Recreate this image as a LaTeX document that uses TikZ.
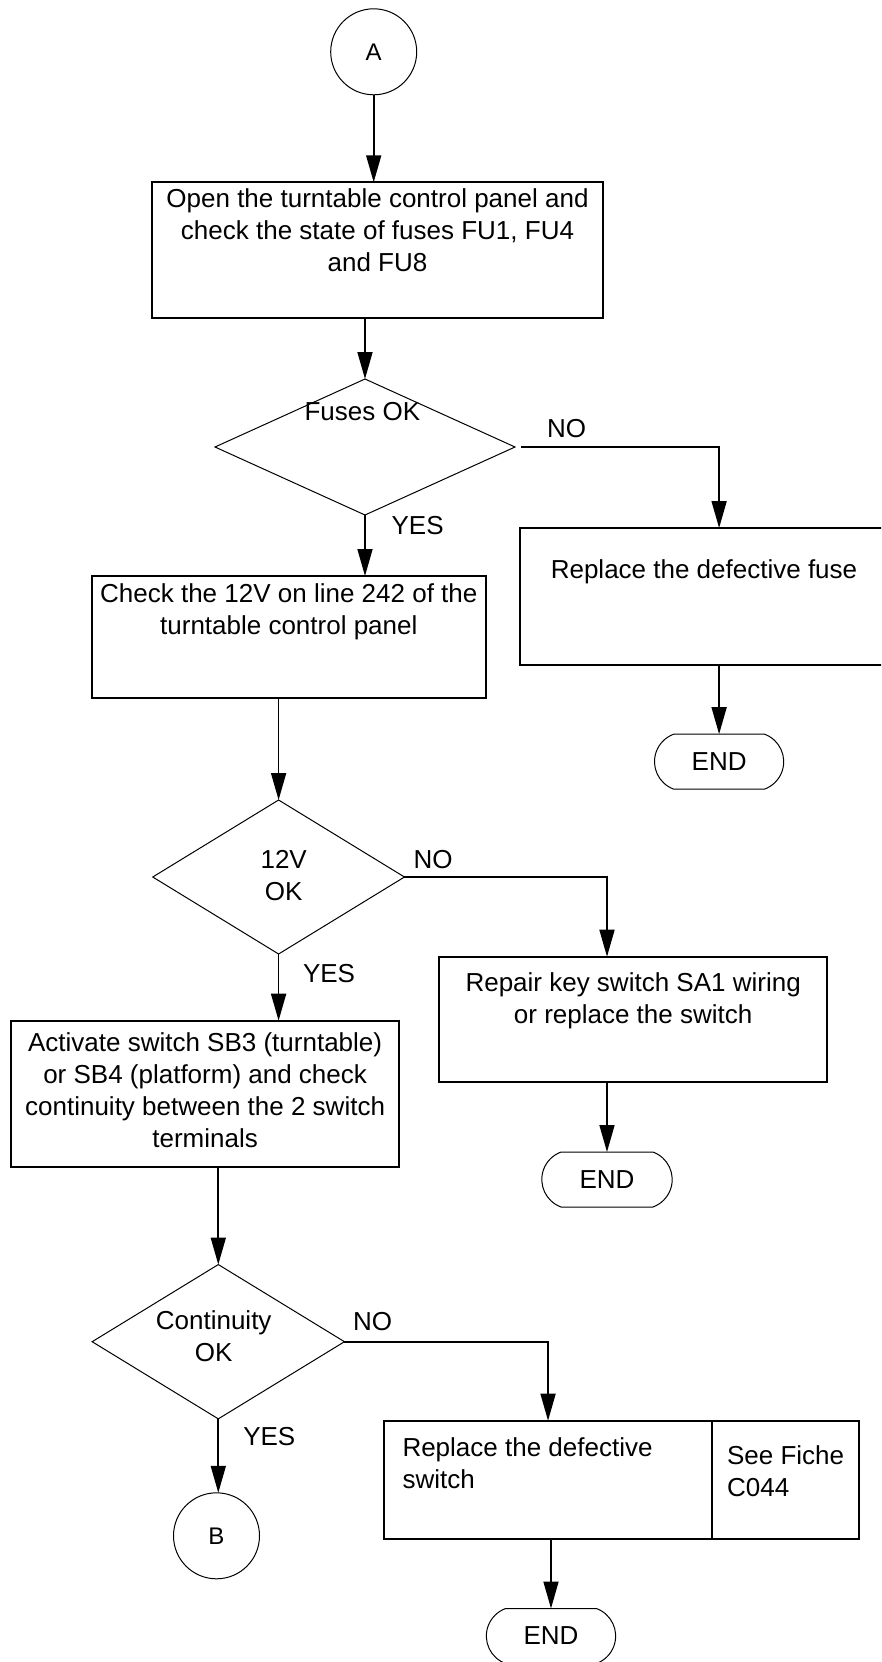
\documentclass[tikz,border=0pt]{standalone}
\usepackage{fontspec}
\setmainfont{Liberation Sans}
\usetikzlibrary{shapes.geometric,shapes.misc,arrows.meta}
\newcommand\ctext[4]{\parbox[c][#2][t]{#1}{\centering\rule{0pt}{#3}#4\par}}
\newcommand\ltext[5]{\parbox[c][#2][t]{#1}{\raggedright\leftskip=#4\relax\rule{0pt}{#3}#5\par}}
\begin{document}
\begin{tikzpicture}[x=1pt,y=-1pt,
  every node/.style={font=\fontsize{26}{32}\selectfont, inner sep=0pt, outer sep=0pt},
  box/.style={draw, line width=2pt, rectangle},
  dia/.style={draw, diamond, line width=1pt},
  conn/.style={draw, circle, line width=1pt, minimum size=86pt, font=\fontsize{24}{28}\selectfont},
  term/.style={draw, rounded rectangle, rounded rectangle arc length=140, line width=1pt, minimum height=55pt},
  lbl/.style={anchor=base west},
  dtext/.style={anchor=north, align=center},
  arr/.style={line width=1.7pt, -{Triangle[length=27pt,width=15pt]}}]
\useasboundingbox[fill=white] (0,0) rectangle (881,1662);
\clip (0,0) rectangle (881,1662);

\node[conn] (A) at (373.7,51.8) {A};
\node[box] (b1) at (377.5,250) {\ctext{450.4pt}{135.4pt}{25.4pt}{Open the turntable control panel and\\check the state of fuses FU1, FU4\\and FU8}};
\node[dia, minimum width=300pt, minimum height=136pt] (d1) at (365,447) {};
\node[dtext] (t1) at (362.4,399) {\rule{0pt}{21pt}Fuses OK};
\node[lbl] (no1) at (547,437.3) {NO};
\node[lbl] (yes1) at (391.6,534.3) {YES};
\node[box] (b2) at (288.8,636.85) {\ctext{394.4pt}{121.7pt}{26.7pt}{Check the 12V on line 242 of the\\turntable control panel}};
\node[box] (b3) at (704,596.25) {\ctext{368pt}{136.5pt}{50pt}{Replace the defective fuse}};
\node[term, minimum width=129.2pt] (e1) at (719.1,761.65) {END};
\node[dia, minimum width=251.7pt, minimum height=154pt] (d2) at (278.6,877) {};
\node[dtext] (t2) at (283.7,847.3) {\rule{0pt}{21pt}12V\\OK};
\node[lbl] (no2) at (413.7,868.3) {NO};
\node[lbl] (yes2) at (303,982.3) {YES};
\node[box] (b4) at (633.15,1019.2) {\ctext{387.7pt}{125pt}{35pt}{Repair key switch SA1 wiring\\or replace the switch}};
\node[box] (b5) at (205.1,1093.7) {\ctext{387.8pt}{146pt}{31pt}{Activate switch SB3 (turntable)\\or SB4 (platform) and check\\continuity between the 2 switch\\terminals}};
\node[term, minimum width=130.4pt] (e2) at (607,1179.5) {END};
\node[dia, minimum width=252.3pt, minimum height=154.3pt] (d3) at (218.3,1341.7) {};
\node[dtext] (t3) at (213.7,1308.3) {\rule{0pt}{21pt}Continuity\\OK};
\node[lbl] (no3) at (353,1330) {NO};
\node[lbl] (yes3) at (243.3,1445) {YES};
\node[conn] (B) at (216.5,1535.8) {B};
\node[box] (b6a) at (548.05,1479.7) {\ltext{328.7pt}{118pt}{36pt}{18.8pt}{Replace the defective\\switch}};
\node[box] (b6b) at (785.5,1479.7) {\ltext{146.2pt}{118pt}{43.3pt}{14.7pt}{See Fiche\\C044}};
\node[term, minimum width=129.3pt] (e3) at (551,1636) {END};

\draw[arr] (A.south) -- (A.south |- b1.north);
\draw[arr] (b1.south -| d1.north) -- (d1.north);
\draw[arr] ([xshift=6pt]d1.east) -| (b3.north -| e1.north);
\draw[arr] (d1.south) -- (d1.south |- b2.north);
\draw[arr] (b3.south -| e1.north) -- (e1.north);
\draw[arr] (b2.south -| d2.north) -- (d2.north);
\draw[arr] (d2.east) -| (b4.north -| e2.north);
\draw[arr] (d2.south) -- (d2.south |- b5.north);
\draw[arr] (b4.south -| e2.north) -- (e2.north);
\draw[arr] (b5.south -| d3.north) -- (d3.north);
\draw[arr] (d3.east) -| (b6a.north);
\draw[arr] (d3.south) -- (d3.south |- B.north);
\draw[arr] (b6a.south -| e3.north) -- (e3.north);
\end{tikzpicture}
\end{document}
